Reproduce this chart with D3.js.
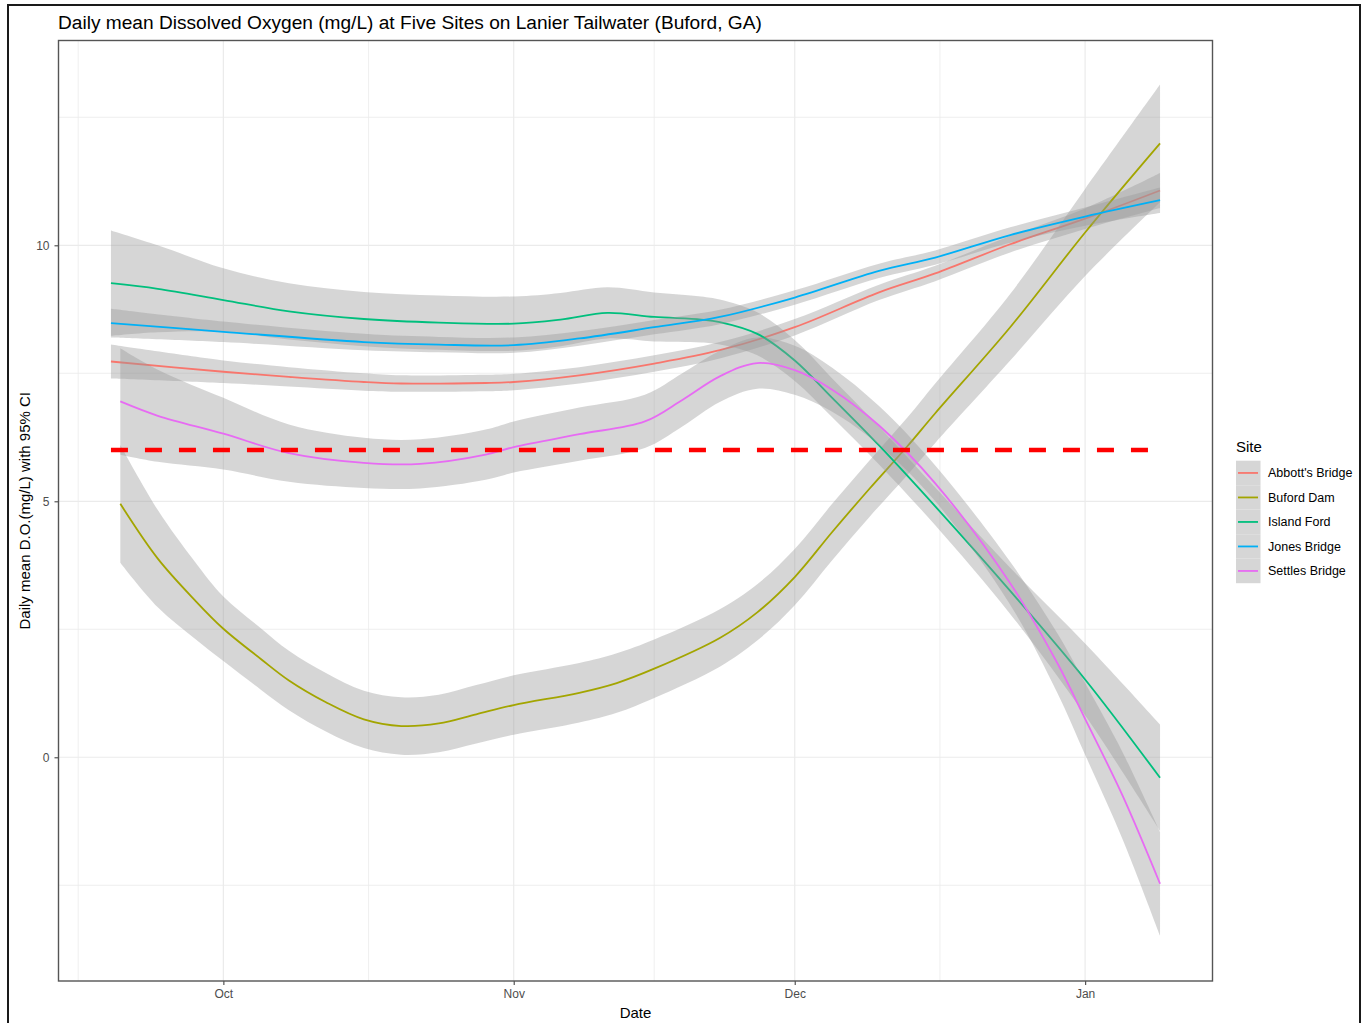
<!DOCTYPE html>
<html>
<head>
<meta charset="utf-8">
<script src="https://cdn.jsdelivr.net/npm/d3@7"></script>
<style>
  body { margin: 0; background: #ffffff; }
  text { font-family: "Liberation Sans", Arial, sans-serif; }
</style>
</head>
<body>
<svg id="chart" width="1369" height="1023"></svg>
<script>
// ---- data: loess-smoothed daily mean D.O. (mg/L) with 95% CI half-widths ----
const sites = ["Abbott's Bridge", "Buford Dam", "Island Ford", "Jones Bridge", "Settles Bridge"];
const siteColors = ["#F8766D", "#A3A500", "#00BF7D", "#00B0F6", "#E76BF3"];

const abbottDates = ["2019-09-19","2019-10-01","2019-10-08","2019-10-16","2019-10-20","2019-10-29","2019-11-01","2019-11-08","2019-11-16","2019-11-23","2019-12-01","2019-12-10","2019-12-16","2019-12-24","2020-01-01","2020-01-09"];
const abbottMean  = [7.73, 7.53, 7.43, 7.33, 7.30, 7.31, 7.33, 7.46, 7.69, 7.95, 8.40, 9.08, 9.45, 10.02, 10.52, 11.07];
const abbottCI    = [0.33, 0.22, 0.19, 0.17, 0.16, 0.16, 0.16, 0.16, 0.16, 0.16, 0.16, 0.15, 0.15, 0.16, 0.20, 0.34];

const bufordDates = ["2019-09-20","2019-09-24","2019-09-28","2019-10-01","2019-10-05","2019-10-08","2019-10-12","2019-10-16","2019-10-20","2019-10-24","2019-10-28","2019-11-01","2019-11-08","2019-11-12","2019-11-16","2019-11-23","2019-11-27","2019-12-01","2019-12-05","2019-12-09","2019-12-13","2019-12-16","2019-12-24","2020-01-01","2020-01-09"];
const bufordMean  = [4.95, 3.88, 3.06, 2.51, 1.92, 1.50, 1.07, 0.74, 0.61, 0.66, 0.84, 1.02, 1.26, 1.45, 1.73, 2.33, 2.83, 3.52, 4.40, 5.25, 6.07, 6.72, 8.40, 10.25, 11.99];
const bufordCI    = [1.15, 0.95, 0.75, 0.63, 0.60, 0.58, 0.57, 0.56, 0.56, 0.56, 0.57, 0.58, 0.58, 0.58, 0.57, 0.56, 0.55, 0.55, 0.55, 0.55, 0.56, 0.58, 0.65, 0.85, 1.15];

const islandDates = ["2019-09-19","2019-09-24","2019-10-01","2019-10-08","2019-10-16","2019-10-24","2019-11-01","2019-11-06","2019-11-11","2019-11-16","2019-11-21","2019-11-23","2019-11-27","2019-12-01","2019-12-05","2019-12-10","2019-12-16","2019-12-24","2020-01-01","2020-01-09"];
const islandMean  = [9.26, 9.15, 8.93, 8.71, 8.56, 8.49, 8.47, 8.55, 8.68, 8.60, 8.55, 8.50, 8.27, 7.75, 7.02, 6.09, 4.90, 3.25, 1.52, -0.40];
const islandCI    = [1.03, 0.85, 0.62, 0.55, 0.53, 0.53, 0.53, 0.52, 0.50, 0.48, 0.45, 0.44, 0.42, 0.40, 0.38, 0.37, 0.37, 0.45, 0.70, 1.04];

const jonesDates  = ["2019-09-19","2019-10-01","2019-10-16","2019-10-24","2019-11-01","2019-11-08","2019-11-16","2019-11-23","2019-12-01","2019-12-10","2019-12-16","2019-12-24","2020-01-01","2020-01-09"];
const jonesMean   = [8.48, 8.31, 8.11, 8.06, 8.05, 8.18, 8.40, 8.60, 8.98, 9.50, 9.76, 10.20, 10.56, 10.88];
const jonesCI     = [0.28, 0.20, 0.16, 0.15, 0.15, 0.14, 0.14, 0.14, 0.14, 0.14, 0.14, 0.15, 0.18, 0.25];

const settlesDates = ["2019-09-20","2019-09-24","2019-10-01","2019-10-08","2019-10-16","2019-10-22","2019-10-29","2019-11-01","2019-11-08","2019-11-15","2019-11-19","2019-11-23","2019-11-27","2019-12-01","2019-12-05","2019-12-10","2019-12-16","2019-12-24","2019-12-29","2020-01-01","2020-01-05","2020-01-09"];
const settlesMean  = [6.95, 6.67, 6.32, 5.94, 5.75, 5.73, 5.91, 6.06, 6.31, 6.56, 6.98, 7.44, 7.70, 7.56, 7.18, 6.48, 5.35, 3.40, 1.85, 0.75, -0.75, -2.47];
const settlesCI    = [1.04, 0.90, 0.70, 0.56, 0.49, 0.48, 0.49, 0.50, 0.52, 0.52, 0.52, 0.50, 0.50, 0.48, 0.43, 0.38, 0.35, 0.42, 0.58, 0.70, 0.85, 1.01];

// 6 mg/L reference level
const thresholdValue = 6;
const thresholdDates = ["2019-09-19", "2020-01-09"];

const monthTicks = ["2019-10-01", "2019-11-01", "2019-12-01", "2020-01-01"];
const monthTickLabels = ["Oct", "Nov", "Dec", "Jan"];
const minorMonthTicks = ["2019-09-15T12:00", "2019-10-16T12:00", "2019-11-16", "2019-12-16T12:00"];
const yTicks = [0, 5, 10];
const yMinorTicks = [-2.5, 2.5, 7.5, 12.5];

const titleText = "Daily mean Dissolved Oxygen (mg/L) at Five Sites on Lanier Tailwater (Buford, GA)";
const xTitle = "Date";
const yTitle = "Daily mean D.O.(mg/L) with 95% CI";
const legendTitle = "Site";

// ---- build series ----
const parseDay = d3.utcParse("%Y-%m-%d");
const parseAny = s => s.includes("T") ? d3.utcParse("%Y-%m-%dT%H:%M")(s) : parseDay(s);

function makeSeries(dates, mean, ci) {
  return dates.map((d, i) => ({ date: parseDay(d), mean: mean[i], lo: mean[i] - ci[i], hi: mean[i] + ci[i] }));
}
const seriesData = [
  makeSeries(abbottDates, abbottMean, abbottCI),
  makeSeries(bufordDates, bufordMean, bufordCI),
  makeSeries(islandDates, islandMean, islandCI),
  makeSeries(jonesDates, jonesMean, jonesCI),
  makeSeries(settlesDates, settlesMean, settlesCI)
];

// ---- layout ----
const svg = d3.select("#chart");
const panel = { left: 58.5, right: 1212.5, top: 40.5, bottom: 981 };

// 5% expansion either side of the data range
const allDates = seriesData.flat().map(d => d.date);
const [dMin, dMax] = d3.extent(allDates);
const span = dMax - dMin;
const x = d3.scaleUtc()
  .domain([new Date(+dMin - span * 0.05), new Date(+dMax + span * 0.05)])
  .range([panel.left, panel.right]);
const y = d3.scaleLinear().domain([-4.37, 14.0]).range([panel.bottom, panel.top]);

// outer frame
svg.append("rect").attr("x", 8).attr("y", 5).attr("width", 1352).attr("height", 1040)
  .attr("fill", "none").attr("stroke", "#1a1a1a").attr("stroke-width", 2);

// title
const title = svg.append("text").attr("x", 58).attr("y", 28.5)
  .attr("font-size", 18).attr("fill", "#000").text(titleText);
const tw = title.node().getComputedTextLength();
title.attr("font-size", 18 * 704 / tw);

// grid
const grid = svg.append("g");
grid.selectAll(".ymin").data(yMinorTicks).join("line")
  .attr("x1", panel.left).attr("x2", panel.right)
  .attr("y1", d => y(d)).attr("y2", d => y(d))
  .attr("stroke", "#EBEBEB").attr("stroke-width", 0.8);
grid.selectAll(".xmin").data(minorMonthTicks.map(parseAny)).join("line")
  .attr("y1", panel.top).attr("y2", panel.bottom)
  .attr("x1", d => x(d)).attr("x2", d => x(d))
  .attr("stroke", "#EBEBEB").attr("stroke-width", 0.8);
grid.selectAll(".ymaj").data(yTicks).join("line")
  .attr("x1", panel.left).attr("x2", panel.right)
  .attr("y1", d => y(d)).attr("y2", d => y(d))
  .attr("stroke", "#EBEBEB").attr("stroke-width", 1.2);
grid.selectAll(".xmaj").data(monthTicks.map(parseDay)).join("line")
  .attr("y1", panel.top).attr("y2", panel.bottom)
  .attr("x1", d => x(d)).attr("x2", d => x(d))
  .attr("stroke", "#EBEBEB").attr("stroke-width", 1.2);

// smooths: ribbon then line, site by site
const curve = d3.curveCatmullRom.alpha(0.5);
const area = d3.area().curve(curve)
  .x(d => x(d.date)).y0(d => y(d.lo)).y1(d => y(d.hi));
const line = d3.line().curve(curve)
  .x(d => x(d.date)).y(d => y(d.mean));

const smooths = svg.append("g");
seriesData.forEach((s, i) => {
  smooths.append("path").attr("d", area(s))
    .attr("fill", "#999999").attr("fill-opacity", 0.4).attr("stroke", "none");
  smooths.append("path").attr("d", line(s))
    .attr("fill", "none").attr("stroke", siteColors[i]).attr("stroke-width", 1.8);
});

// dashed reference line
svg.append("path")
  .attr("d", d3.line().x(d => x(d)).y(() => y(thresholdValue))(thresholdDates.map(parseDay)))
  .attr("fill", "none").attr("stroke", "#FF0000").attr("stroke-width", 4.5)
  .attr("stroke-dasharray", "17,17");

// panel border
svg.append("rect")
  .attr("x", panel.left).attr("y", panel.top)
  .attr("width", panel.right - panel.left).attr("height", panel.bottom - panel.top)
  .attr("fill", "none").attr("stroke", "#555555").attr("stroke-width", 1.4);

// axes
const xAxis = d3.axisBottom(x)
  .tickValues(monthTicks.map(parseDay))
  .tickFormat((d, i) => monthTickLabels[i])
  .tickSize(4).tickPadding(4);
const gx = svg.append("g").attr("transform", `translate(0,${panel.bottom})`).call(xAxis);
gx.select(".domain").remove();
gx.selectAll("line").attr("stroke", "#555555").attr("stroke-width", 1.2);
gx.selectAll("text").attr("font-size", 12).attr("fill", "#4D4D4D")
  .attr("font-family", "'Liberation Sans', Arial, sans-serif");

const yAxis = d3.axisLeft(y).tickValues(yTicks).tickFormat(d3.format("d"))
  .tickSize(4).tickPadding(5);
const gy = svg.append("g").attr("transform", `translate(${panel.left},0)`).call(yAxis);
gy.select(".domain").remove();
gy.selectAll("line").attr("stroke", "#555555").attr("stroke-width", 1.2);
gy.selectAll("text").attr("font-size", 12).attr("fill", "#4D4D4D")
  .attr("font-family", "'Liberation Sans', Arial, sans-serif");

// axis titles
svg.append("text").attr("x", (panel.left + panel.right) / 2).attr("y", 1017.5)
  .attr("text-anchor", "middle").attr("font-size", 15).attr("fill", "#000").text(xTitle);
svg.append("text")
  .attr("transform", `translate(30,${(panel.top + panel.bottom) / 2}) rotate(-90)`)
  .attr("text-anchor", "middle").attr("font-size", 15).attr("fill", "#000").text(yTitle);

// legend
const legend = svg.append("g").attr("transform", "translate(1236,0)");
legend.append("text").attr("x", 0).attr("y", 452).attr("font-size", 15).attr("fill", "#000").text(legendTitle);
const keyH = 24.5, keyTop = 460.7;
sites.forEach((name, i) => {
  const ky = keyTop + i * keyH;
  legend.append("rect").attr("x", 0).attr("y", ky).attr("width", 24.5).attr("height", keyH)
    .attr("fill", "#D6D6D6");
  legend.append("line").attr("x1", 2).attr("x2", 22)
    .attr("y1", ky + keyH / 2).attr("y2", ky + keyH / 2)
    .attr("stroke", siteColors[i]).attr("stroke-width", 1.8);
  legend.append("text").attr("x", 32).attr("y", ky + keyH / 2 + 4.5)
    .attr("font-size", 12.5).attr("fill", "#000").text(name);
});
</script>
</body>
</html>
